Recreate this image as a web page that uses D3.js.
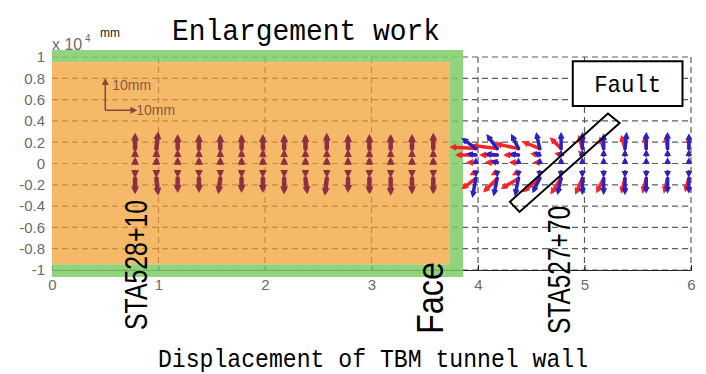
<!DOCTYPE html>
<html>
<head>
<meta charset="utf-8">
<script src="https://cdn.jsdelivr.net/npm/d3@7"></script>
<style>
  body { margin: 0; background: #fff; }
  svg { display: block; }
</style>
</head>
<body>
<svg id="chart" width="706" height="374"></svg>
<script>
// axis ticks
const xTicks = [0, 1, 2, 3, 4, 5, 6];
const yTicks = [1, 0.8, 0.6, 0.4, 0.2, 0, -0.2, -0.4, -0.6, -0.8, -1];

// measuring rows (x10^4 mm)
const rows = [0.14, 0.08, 0.01, -0.08, -0.14];

// enlargement section, arrows in mm
const colsA = [0.78, 0.98, 1.18, 1.38, 1.58, 1.78, 1.98, 2.18, 2.38, 2.58, 2.78, 2.98, 3.18, 3.38, 3.58];
const dxA = [
  [0, 0.5, 0, 0, 0, 0, 0, 0, 0, 0, 0, 0, 0, 0, 0],
  [0, 0, 0, 0, 0, 0, 0, 0, 0, 0, 0, 0, 0, 0, 0],
  [0, 0, 0, 0, 0, 0, 0, 0, 0, 0, 0, 0, 0, 0, 0],
  [0, 0, 0, 0, 0, 0, 0, 0, 0, 0, 0, 0, 0, 0, 0],
  [0, 0.5, 0, 0, -0.5, 0, 0, 0, 0.5, -0.5, 0, 0, 0, 0, 0]
];
const dyA = [
  [4, 4.5, 3.5, 3.5, 3.5, 3.5, 3.5, 3.5, 3.5, 4, 3.5, 3.5, 3.5, 3.5, 4],
  [0.4, 0.4, 0.3, 0.3, 0.3, 0.3, 0.3, 0.3, 0.3, 0.3, 0.3, 0.3, 0.3, 0.3, 0.3],
  [0.3, 0.3, 0.3, 0.3, 0.3, 0.3, 0.3, 0.3, 0.3, 0.3, 0.3, 0.3, 0.3, 0.3, 0.3],
  [-0.4, -0.4, -0.3, -0.3, -0.3, -0.3, -0.3, -0.3, -0.3, -0.3, -0.3, -0.3, -0.3, -0.3, -0.3],
  [-4, -4.5, -3.5, -3.5, -4, -3.5, -3.5, -4, -4, -4.5, -3.5, -4, -4.5, -4, -4]
];

// TBM section, two series (red, blue), arrows in mm
const colsB = [3.98, 4.18, 4.38, 4.58, 4.78, 4.98, 5.18, 5.38, 5.58, 5.78, 5.98];
const redDx = [
  [-8, -8, -7, -5, -3, -1, -1, -1, -0.5, -0.5, 0],
  [-6, -5, -4, -2, -1, -0.5, 0, 0, 0, 0, 0],
  [-2, -3, -2, -1, 0, 0, 0, 0, 0, 0, 0],
  [-1, -1, -1, 0, 0, 0, 0, 0, 0, 0, 0],
  [-4, -4, -5, -5, -3, -2, -2, -1, -1, -1, -1]
];
const redDy = [
  [0.5, 1, 1.5, 2, 3, 3.5, 3, 3.5, 3.5, 3.5, 3],
  [0, 0, 0, 0.3, 0.3, 0.5, 0.5, 0.5, 0.5, 0.5, 0.5],
  [0, 0, 0, 0, 0.3, 0.3, 0.3, 0.3, 0.3, 0.3, 0.3],
  [-0.5, -0.5, -0.5, -0.5, -0.5, -0.5, -0.5, -0.5, -0.5, -0.5, -0.5],
  [-3, -4, -3, -4, -4.5, -4.5, -4, -4, -4, -4, -3.5]
];
const blueDx = [
  [-4, -3, -2, -1, 0, 0, 0, 0.5, 0, 0, 0],
  [-2, -3, -2, -1, 0, 0, 0, 0, 0, 0, 0],
  [0, -1, 0, 0, 0, 0, 0, 0, 0, 0, 0],
  [0, 0, 0, 0, 0, 0, 0, 0, 0, 0, 0],
  [-1, -1, -1, -2, -1, 0, 0, 0, 0, 0, 0]
];
const blueDy = [
  [3, 4, 4, 4.5, 4.5, 4.5, 4, 4.5, 4.5, 4.5, 4],
  [0.3, 0.3, 0.3, 0.5, 0.5, 0.5, 0.5, 0.5, 0.5, 0.5, 0.5],
  [0.3, 0.3, 0.3, 0.3, 0.3, 0.3, 0.3, 0.3, 0.3, 0.3, 0.3],
  [-0.5, -0.5, -0.5, -0.5, -0.5, -0.5, -0.5, -0.5, -0.5, -0.5, -0.5],
  [-5.5, -5, -5, -4, -4.5, -4.5, -4.5, -4.5, -4, -4, -4]
];

const svg = d3.select("#chart");
const x = d3.scaleLinear().domain([0, 6]).range([52, 691]);
const y = d3.scaleLinear().domain([-1, 1]).range([270, 57]);
const mm = d3.scaleLinear().domain([0, 10]).range([0, 28]);

const defs = svg.append("defs");
function marker(id, color, size) {
  defs.append("marker")
    .attr("id", id)
    .attr("viewBox", "0 0 10 10")
    .attr("refX", 4).attr("refY", 5)
    .attr("markerWidth", size).attr("markerHeight", size)
    .attr("markerUnits", "userSpaceOnUse")
    .attr("orient", "auto")
    .append("path")
    .attr("d", "M0,0L10,5L0,10Z")
    .attr("fill", color);
}
marker("hA", "#8e3045", 8);
marker("hR", "#ff2222", 7);
marker("hB", "#2a22c8", 7);
marker("hL", "#8a4a38", 7);

// grid
const grid = svg.append("g").attr("stroke", "#5c5c5c").attr("stroke-width", 1.2)
  .attr("stroke-dasharray", "6,4").attr("fill", "none");
yTicks.forEach(t => {
  grid.append("line").attr("x1", x(0)).attr("x2", x(6)).attr("y1", y(t)).attr("y2", y(t));
});
xTicks.slice(1).forEach(t => {
  grid.append("line").attr("x1", x(t)).attr("x2", x(t)).attr("y1", y(1)).attr("y2", y(-1));
});

// x axis
const xAxis = svg.append("g")
  .attr("transform", `translate(0,${y(-1)})`)
  .call(d3.axisBottom(x).tickValues(xTicks).tickSize(-5).tickPadding(9).tickFormat(d3.format("d")));
xAxis.select(".domain").attr("stroke", "#222");
xAxis.selectAll(".tick line").attr("stroke", "#222");
xAxis.selectAll("text").attr("fill", "#6a6a6a").style("font", "15px 'Liberation Sans', sans-serif");

// y axis
const yAxis = svg.append("g")
  .attr("transform", `translate(${x(0)},0)`)
  .call(d3.axisLeft(y).tickValues(yTicks).tickSize(0).tickPadding(7)
    .tickFormat(d => d === 0 ? "0" : String(+d.toFixed(1))));
yAxis.select(".domain").remove();
yAxis.selectAll("text").attr("fill", "#6a6a6a").style("font", "15px 'Liberation Sans', sans-serif");

// enlargement work region: green frame and orange fill
const gx0 = x(0), gx1 = x(3.86), gy0 = y(1.066), gy1 = y(-1.066);
const ox1 = x(3.73), oy0 = y(0.952), oy1 = y(-0.945);
svg.append("path")
  .attr("d", `M${gx0},${gy0}H${gx1}V${gy1}H${gx0}Z M${gx0},${oy0}V${oy1}H${ox1}V${oy0}Z`)
  .attr("fill-rule", "evenodd")
  .attr("fill", "#7fcb66").attr("fill-opacity", 0.85);
svg.append("rect")
  .attr("x", gx0).attr("y", oy0).attr("width", ox1 - gx0).attr("height", oy1 - oy0)
  .attr("fill", "#f29c2f").attr("fill-opacity", 0.72);

// arrows
function drawArrows(cols, dx, dy, color, head, width) {
  const data = [];
  rows.forEach((r, i) => cols.forEach((c, j) => data.push({ c, r, dx: dx[i][j], dy: dy[i][j] })));
  svg.append("g").selectAll("line").data(data).enter().append("line")
    .attr("x1", d => x(d.c)).attr("y1", d => y(d.r))
    .attr("x2", d => x(d.c) + (d.dx >= 0 ? mm(d.dx) : -mm(-d.dx)))
    .attr("y2", d => y(d.r) - (d.dy >= 0 ? mm(d.dy) : -mm(-d.dy)))
    .attr("stroke", color).attr("stroke-width", width).attr("stroke-linecap", "round")
    .attr("marker-end", `url(#${head})`);
}
drawArrows(colsA, dxA, dyA, "#8e3045", "hA", 4.5);
drawArrows(colsB, redDx, redDy, "#ff2222", "hR", 3.5);
drawArrows(colsB, blueDx, blueDy, "#2a22c8", "hB", 3.5);

// scale legend
const lx = x(0.5), ly = y(0.5);
svg.append("line").attr("x1", lx).attr("y1", ly).attr("x2", lx).attr("y2", ly - mm(10))
  .attr("stroke", "#8a4a38").attr("stroke-width", 1.5).attr("marker-end", "url(#hL)");
svg.append("line").attr("x1", lx).attr("y1", ly).attr("x2", lx + mm(10)).attr("y2", ly)
  .attr("stroke", "#8a4a38").attr("stroke-width", 1.5).attr("marker-end", "url(#hL)");
svg.append("text").attr("x", lx + 7).attr("y", ly - 20).text("10mm")
  .attr("fill", "#8a5a3c").style("font", "14px 'Liberation Sans', sans-serif");
svg.append("text").attr("x", lx + 31).attr("y", ly + 5).text("10mm")
  .attr("fill", "#8a5a3c").style("font", "14px 'Liberation Sans', sans-serif");

// fault zone
const fault = [[4.30, -0.36], [4.39, -0.455], [5.33, 0.38], [5.22, 0.47]];
svg.append("polygon")
  .attr("points", fault.map(p => [x(p[0]), y(p[1])].join(",")).join(" "))
  .attr("fill", "none").attr("stroke", "#000").attr("stroke-width", 2);
svg.append("rect")
  .attr("x", x(4.89)).attr("y", y(0.96)).attr("width", x(5.92) - x(4.89)).attr("height", y(0.54) - y(0.96))
  .attr("fill", "#fff").attr("stroke", "#000").attr("stroke-width", 2);
svg.append("text").attr("x", (x(4.89) + x(5.92)) / 2).attr("y", y(0.75) + 8)
  .attr("text-anchor", "middle").attr("textLength", 67).attr("lengthAdjust", "spacingAndGlyphs")
  .style("font", "24px 'Liberation Mono', monospace").text("Fault");

// exponent label
svg.append("text").attr("x", 52).attr("y", 50).attr("fill", "#6a6a6a")
  .style("font", "16px 'Liberation Sans', sans-serif").text("x 10");
svg.append("text").attr("x", 85).attr("y", 42).attr("fill", "#6a6a6a")
  .style("font", "10px 'Liberation Sans', sans-serif").text("4");
svg.append("text").attr("x", 100).attr("y", 37).attr("fill", "#222")
  .style("font", "12px 'Liberation Sans', sans-serif").text("mm");

// titles
svg.append("text").attr("x", 172).attr("y", 40).attr("textLength", 268).attr("lengthAdjust", "spacingAndGlyphs")
  .style("font", "30px 'Liberation Mono', monospace").text("Enlargement work");
svg.append("text").attr("x", 158).attr("y", 367).attr("textLength", 430).attr("lengthAdjust", "spacingAndGlyphs")
  .style("font", "25px 'Liberation Mono', monospace").text("Displacement of TBM tunnel wall");

// rotated station labels
function vlabel(px, py, txt, size, len) {
  svg.append("text").attr("transform", `translate(${px},${py}) rotate(-90)`)
    .attr("textLength", len).attr("lengthAdjust", "spacingAndGlyphs")
    .style("font", `${size}px 'Liberation Sans', sans-serif`).text(txt);
}
vlabel(147, 330, "STA528+10", 31, 130);
vlabel(443, 334, "Face", 36, 72);
vlabel(570, 334, "STA527+70", 31, 128);
</script>
</body>
</html>
